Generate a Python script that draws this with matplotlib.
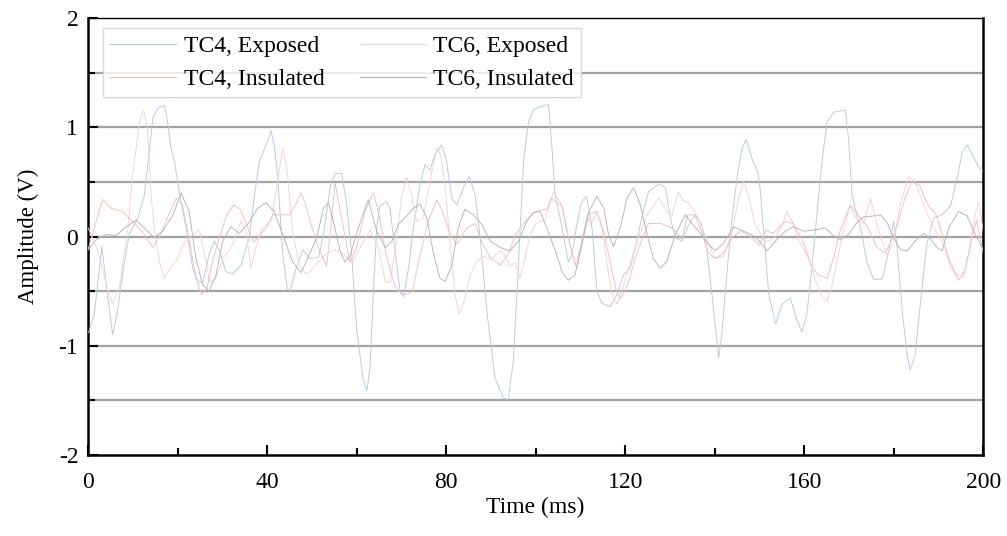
import numpy as np
import matplotlib
matplotlib.use("Agg")
import matplotlib.pyplot as plt
from matplotlib.ticker import MultipleLocator, FuncFormatter

plt.rcParams['font.family'] = ['Liberation Serif', 'DejaVu Serif']

# TC4, Exposed (light blue)
tc4_exp_t = [0.1, 1.4, 3.1, 4.0, 5.5, 6.6, 7.7, 9.2, 11.1, 12.6, 13.7, 14.5, 15.6, 17.1, 17.8, 18.5,
             19.3, 20.4, 21.9, 23.4, 24.5, 25.6, 27.1, 28.2, 29.4, 30.8, 32.3, 34.2, 36.0, 37.2, 38.3,
             39.8, 40.9, 41.6, 42.4, 43.5, 44.5, 45.1, 46.5, 48.0, 49.5, 51.5, 52.6, 54.1, 55.2, 56.7,
             57.8, 58.9, 60.0, 61.5, 62.3, 63.0, 63.8, 64.5, 65.2, 66.7, 67.5, 68.6, 69.7, 70.5, 71.6,
             72.7, 74.2, 75.3, 76.4, 77.5, 79.0, 80.1, 81.3, 82.4, 83.9, 85.2, 86.5, 87.6, 89.1, 90.9,
             92.8, 93.9, 95.0, 96.2, 97.3, 98.4, 99.5, 101.0, 102.9, 103.6, 104.4, 105.9, 107.3, 108.1,
             109.2, 110.3, 111.4, 112.6, 113.7, 114.8, 116.7, 118.2, 119.6, 121.1, 122.6, 123.7, 125.2,
             127.5, 129.0, 130.1, 131.2, 132.7, 134.2, 135.7, 137.1, 138.3, 139.4, 140.5, 140.9, 141.6,
             142.7, 143.8, 145.0, 146.1, 147.0, 148.3, 149.7, 150.2, 151.0, 152.1, 153.6, 155.0, 156.9,
             158.4, 159.5, 160.6, 161.7, 162.9, 164.0, 165.1, 166.6, 169.2, 169.9, 170.7, 171.8, 172.9,
             174.0, 175.5, 177.4, 178.9, 180.0, 180.7, 181.9, 183.0, 183.7, 184.8, 186.0, 187.4, 188.9,
             190.8, 192.7, 194.2, 195.3, 196.4, 197.9, 199.4, 200.0]
tc4_exp_v = [-0.88, -0.71, -0.09, -0.41, -0.90, -0.68, -0.35, 0.02, 0.17, 0.38, 0.78, 1.09, 1.18, 1.20, 1.05, 0.81,
             0.69, 0.41, 0.08, -0.29, -0.41, -0.42, -0.16, -0.04, -0.13, -0.32, -0.34, -0.26, -0.01, 0.38, 0.69,
             0.84, 0.97, 0.84, 0.54, -0.16, -0.47, -0.50, -0.29, -0.12, -0.20, -0.19, 0.02, 0.45, 0.58, 0.58,
             0.29, -0.16, -0.84, -1.32, -1.41, -1.20, -0.47, 0.08, 0.28, 0.32, 0.25, -0.13, -0.50, -0.55, -0.29,
             0.08, 0.48, 0.66, 0.61, 0.75, 0.84, 0.69, 0.35, 0.29, 0.45, 0.55, 0.38, -0.01, -0.68, -1.29,
             -1.48, -1.49, -1.14, -0.23, 0.69, 1.05, 1.16, 1.19, 1.21, 0.84, 0.38, 0.08, -0.23, -0.17,
             0.11, 0.32, 0.37, 0.08, -0.50, -0.61, -0.64, -0.53, -0.35, -0.29, -0.04, 0.17, 0.41,
             0.48, 0.45, 0.17, -0.01, -0.04, 0.11, 0.20, 0.11, -0.13, -0.53, -0.96, -1.11, -0.90,
             -0.35, 0.14, 0.54, 0.81, 0.89, 0.72, 0.58, 0.42, 0.00, -0.53, -0.80, -0.62, -0.56,
             -0.77, -0.87, -0.71, -0.29, 0.23, 0.69, 1.05, 1.14, 1.16, 0.90, 0.38, 0.20, 0.02,
             -0.23, -0.39, -0.39, -0.13, 0.14, -0.07, -0.68, -1.08, -1.22, -1.08, -0.59, -0.07, 0.17,
             0.20, 0.28, 0.54, 0.77, 0.84, 0.72, 0.61, 0.60]

# TC6, Exposed (pale pink)
tc6_exp_t = [0, 1.5, 3, 4.5, 5.5, 7, 8.9, 10, 11.5, 12.4, 13.3, 14.1, 15, 16, 17, 18.5, 20, 21.5, 23.4, 24.9,
             26, 27.2, 28.6, 30.1, 32, 34.2, 35.3, 36.4, 37.5, 39, 41, 42.5, 43.5, 44.5, 45.7, 47.2, 48.7,
             49.6, 51.5, 53.3, 55.2, 57, 58.9, 60.8, 63, 64.9, 66.4, 67.5, 69, 70.1, 71.2, 72.3, 73.4, 74.9,
             76.4, 77.9, 78.8, 79.8, 80.9, 82, 82.9, 84, 85.4, 86.8, 88.3, 90.2, 92.1, 93.3, 94.3, 95.4, 96.5,
             97.6, 98.8, 99.9, 101, 102, 104, 105.9, 107.3, 108.8, 110.3, 111.4, 112.5, 113.7, 115, 116.3,
             117.2, 118.2, 119.6, 121.1, 122.6, 124.9, 127.5, 129.5, 130.5, 131.9, 133, 134.2, 136, 138,
             140.1, 142, 144, 145.3, 146.5, 147.7, 149.1, 151.5, 153.6, 155, 156.2, 157.5, 159, 161, 162.5,
             164, 165.1, 166.2, 167.7, 169, 170.3, 171.8, 173.3, 174.8, 176.3, 177.5, 178.5, 180, 181.5,
             183.3, 184.8, 186.2, 187.5, 189, 190.8, 192.5, 194.1, 195.6, 197, 198.2, 199, 200]
tc6_exp_v = [0.08, -0.05, -0.25, -0.50, -0.61, -0.47, 0.08, 0.57, 1.05, 1.16, 0.99, 0.38, 0.00, -0.23, -0.38,
             -0.28, -0.20, -0.06, 0.02, 0.06, -0.15, -0.42, -0.38, -0.20, -0.10, 0.14, 0.05, -0.29, -0.10,
             0.08, 0.15, 0.55, 0.81, 0.60, 0.05, -0.26, -0.34, -0.32, -0.23, -0.15, -0.12, -0.16, -0.24,
             -0.10, 0.06, -0.10, -0.41, -0.42, -0.01, 0.38, 0.54, 0.38, 0.14, 0.17, 0.51, 0.81, 0.75, 0.45,
             -0.07, -0.53, -0.71, -0.60, -0.35, -0.23, -0.18, -0.20, -0.13, -0.18, -0.27, -0.24, -0.38,
             -0.20, 0.02, 0.11, 0.14, 0.15, 0.41, 0.29, 0.00, -0.27, -0.05, 0.17, 0.12, 0.23, 0.05, -0.35,
             -0.55, -0.62, -0.45, -0.25, -0.05, 0.20, 0.35, 0.22, 0.20, 0.41, 0.33, 0.31, 0.20, 0.00,
             -0.20, -0.18, 0.05, 0.35, 0.51, 0.35, 0.10, -0.05, 0.00, 0.10, 0.23, 0.12, -0.05, -0.20, -0.40,
             -0.55, -0.59, -0.45, -0.15, 0.10, 0.29, 0.15, 0.12, 0.35, 0.10, -0.05, -0.17, -0.05, 0.30,
             0.55, 0.50, 0.35, 0.20, 0.08, -0.05, -0.22, -0.35, -0.37, -0.10, 0.20, 0.32, 0.05]

# TC4, Insulated (pink)
tc4_ins_t = [0, 1.5, 3.3, 5.1, 7.7, 10, 12, 14.5, 16, 18, 19.7, 21, 22.5, 24, 25.3, 26.5, 28, 29.4, 31, 32.5,
             34, 35.5, 37, 39.8, 41.3, 43, 45, 46.5, 47.6, 48.6, 49.6, 51.5, 53.3, 54.3, 55.2, 56.5, 58.5, 60,
             62, 63.8, 65, 66.5, 68.5, 70, 71.2, 72.5, 74, 76, 77.9, 79, 80.9, 82.5, 84.6, 86.5, 88, 90, 92.1,
             94, 95.5, 97.3, 99.5, 101, 102.5, 103.5, 105.9, 107.5, 109.2, 110.5, 111.8, 113.7, 115.2, 116.5,
             118, 119, 120.5, 122.6, 125.2, 128, 130.5, 132.7, 134, 135.5, 137, 138.6, 140.1, 142, 144, 146,
             148, 150, 151.5, 153, 155.8, 157.5, 159.5, 161.5, 163, 165.1, 166.5, 168, 170.3, 172, 174, 176.3,
             178, 180, 182.5, 184, 185.8, 187.5, 189.5, 191, 192.5, 194.5, 196, 197.5, 198.5, 200]
tc4_ins_v = [-0.12, 0.10, 0.34, 0.26, 0.23, 0.14, 0.05, -0.10, 0.00, 0.20, 0.35, 0.30, 0.00, -0.35, -0.53,
             -0.48, -0.20, 0.00, 0.20, 0.29, 0.25, 0.10, -0.05, 0.08, 0.20, 0.20, 0.20, 0.30, 0.40, 0.30,
             0.14, -0.10, -0.27, 0.10, 0.49, 0.20, -0.23, -0.10, 0.25, 0.40, 0.20, -0.15, -0.45, -0.52,
             -0.53, -0.50, -0.20, 0.14, 0.34, 0.25, 0.02, -0.07, 0.08, 0.12, -0.05, -0.20, -0.26, -0.15,
             0.02, 0.12, 0.22, 0.24, 0.25, 0.35, 0.28, -0.05, -0.29, -0.05, 0.20, 0.23, 0.05, -0.20, -0.50,
             -0.57, -0.45, -0.15, 0.12, 0.12, 0.08, -0.02, 0.20, 0.20, 0.05, -0.15, -0.20, -0.15, 0.00,
             0.05, 0.00, -0.08, 0.06, 0.03, 0.14, 0.12, -0.02, -0.25, -0.35, -0.38, -0.20, 0.05, 0.29,
             0.20, 0.10, -0.10, -0.15, 0.00, 0.35, 0.50, 0.47, 0.30, 0.20, 0.00, -0.25, -0.40, -0.30,
             0.00, 0.15, -0.15]

# TC6, Insulated (gray)
tc6_ins_t = [0, 1.8, 4.0, 6.3, 8.5, 10.7, 12.6, 14.8, 16.7, 19.0, 20.8, 22.6, 24.1, 25.6, 27.1, 28.6, 30.1,
             31.9, 33.8, 36.0, 37.9, 39.8, 41.6, 43.5, 45.7, 47.6, 49.6, 51.1, 52.6, 53.7, 54.8, 56.3, 57.4,
             58.5, 60.4, 62.6, 64.5, 66.4, 67.9, 69.3, 71.2, 72.7, 74.2, 75.7, 77.2, 78.6, 79.8, 81.3, 82.7,
             84.2, 86.1, 88.0, 89.8, 92.1, 94.3, 96.2, 98.0, 99.5, 101.0, 102.5, 104.4, 105.9, 107.3, 108.8,
             110.3, 111.8, 113.7, 115.2, 116.3, 117.4, 118.9, 120.4, 121.9, 123.4, 124.9, 126.3, 127.8,
             129.3, 131.2, 133.4, 134.9, 136.4, 138.6, 140.1, 142.0, 144.2, 146.5, 149.1, 151.7, 153.6,
             155.8, 157.6, 159.9, 162.1, 164.7, 166.2, 168.1, 169.9, 171.8, 173.3, 175.5, 177.0, 178.5,
             180.0, 181.5, 183.0, 184.8, 186.7, 188.2, 189.7, 190.8, 192.3, 194.5, 196.4, 198.2, 200.0]
tc6_ins_v = [-0.12, -0.03, 0.02, 0.01, 0.09, 0.15, 0.08, -0.01, 0.05, 0.20, 0.40, 0.23, -0.20, -0.44, -0.50,
             -0.35, -0.04, 0.09, 0.03, 0.13, 0.26, 0.31, 0.23, 0.02, -0.23, -0.33, -0.15, -0.01, 0.26, 0.31,
             0.14, -0.13, -0.23, -0.18, 0.08, 0.34, 0.05, -0.10, -0.04, 0.11, 0.19, 0.26, 0.30, 0.17, -0.16,
             -0.38, -0.41, -0.26, 0.08, 0.25, 0.20, 0.11, -0.04, -0.10, -0.13, -0.04, 0.14, 0.22, 0.23, 0.08,
             -0.13, -0.32, -0.40, -0.35, -0.07, 0.22, 0.37, 0.26, 0.02, -0.09, 0.08, 0.35, 0.45, 0.29, 0.02,
             -0.20, -0.29, -0.23, 0.02, 0.20, 0.12, 0.05, -0.07, -0.13, -0.06, 0.09, 0.05, 0.00, -0.13,
             -0.04, 0.05, 0.09, 0.05, 0.06, 0.08, 0.02, -0.03, 0.02, 0.13, 0.18, 0.19, 0.20, 0.13, -0.01,
             -0.12, -0.13, -0.04, 0.03, -0.02, -0.10, -0.13, 0.08, 0.23, 0.19, 0.02, -0.12]

fig = plt.figure(figsize=(10.07, 5.36), dpi=100)
ax = fig.add_axes([0.0874, 0.151, 0.889, 0.815])

lw = 0.65
l1, = ax.plot(tc4_exp_t, tc4_exp_v, color='#b3c9e8', lw=lw, label='TC4, Exposed', zorder=3)
l2, = ax.plot(tc6_exp_t, tc6_exp_v, color='#f8d0d0', lw=lw, label='TC6, Exposed', zorder=3)
l3, = ax.plot(tc4_ins_t, tc4_ins_v, color='#f5bcbc', lw=lw, label='TC4, Insulated', zorder=3)
l4, = ax.plot(tc6_ins_t, tc6_ins_v, color='#b4b4b4', lw=lw, label='TC6, Insulated', zorder=3)

ax.set_xlim(0, 200)
ax.set_ylim(-2, 2)
ax.xaxis.set_major_locator(MultipleLocator(40))
ax.xaxis.set_minor_locator(MultipleLocator(20))
ax.yaxis.set_major_locator(MultipleLocator(1))
ax.yaxis.set_minor_locator(MultipleLocator(0.5))
ax.yaxis.set_major_formatter(FuncFormatter(lambda v, p: '%d' % v))
ax.xaxis.set_major_formatter(FuncFormatter(lambda v, p: '%d' % v))

# horizontal grid every 0.5 V
for yv in [-1.5, -1, -0.5, 0, 0.5, 1, 1.5]:
    ax.axhline(yv, color='#a3a3a3', lw=1.6, zorder=1)

ax.tick_params(axis='both', which='both', direction='in', labelsize=17, width=1.5)
ax.tick_params(axis='x', which='major', length=7, pad=12)
ax.tick_params(axis='x', which='minor', length=5)
ax.tick_params(axis='y', which='major', length=7, pad=7)
ax.tick_params(axis='y', which='minor', length=5)
ax.tick_params(right=False, top=False)
for s in ax.spines.values():
    s.set_linewidth(1.8)
    s.set_color('black')
ax.spines['top'].set_linewidth(1.0)

ax.set_xlabel('Time (ms)', fontsize=17, labelpad=3)
ax.set_ylabel('Amplitude (V)', fontsize=16.5, labelpad=14)

leg = ax.legend(handles=[l1, l3, l2, l4], ncol=2, loc='upper left', bbox_to_anchor=(0.017, 0.977),
                fontsize=17, frameon=True, fancybox=False, borderaxespad=0, handlelength=2.8,
                columnspacing=1.5, handletextpad=0.3, labelspacing=0.5, borderpad=0.3)
leg.get_frame().set_edgecolor('#d0d0d0')
leg.get_frame().set_linewidth(1.0)
for h in leg.get_lines():
    h.set_linewidth(0.8)

fig.savefig('out.png', dpi=100)
